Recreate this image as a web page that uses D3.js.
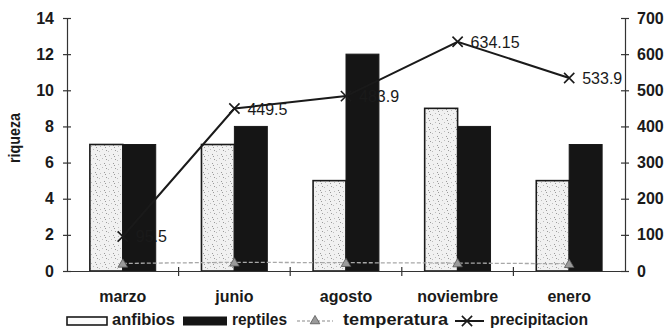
<!DOCTYPE html>
<html>
<head>
<meta charset="utf-8">
<script src="https://cdn.jsdelivr.net/npm/d3@7"></script>
<style>
  html, body { margin: 0; padding: 0; background: #fff; }
  svg { display: block; font-family: "Liberation Sans", Arial, sans-serif; }
</style>
</head>
<body>
<svg id="chart" width="665" height="330"></svg>
<script>
// Riqueza de anfibios y reptiles por mes, con temperatura y precipitación
const meses = ["marzo", "junio", "agosto", "noviembre", "enero"];
const anfibios = [7, 7, 5, 9, 5];
const reptiles = [7, 8, 12, 8, 7];
const temperatura = [21, 24, 23, 22, 20];
const precipitacion = [95.5, 449.5, 483.9, 634.15, 533.9];
const precipLabels = ["95.5", "449.5", "483.9", "634.15", "533.9"];
const ticksIzq = [0, 2, 4, 6, 8, 10, 12, 14];
const ticksDer = [0, 100, 200, 300, 400, 500, 600, 700];

const svg = d3.select("#chart");
const plotL = 67, plotR = 625, plotT = 18, plotB = 271;
const ink = "#1a1a1a";

// patterned fill for the anfibios bars (light stipple)
const defs = svg.append("defs");
const pat = defs.append("pattern").attr("id", "stipple")
  .attr("patternUnits", "userSpaceOnUse").attr("width", 9).attr("height", 9);
pat.append("rect").attr("width", 9).attr("height", 9).attr("fill", "#f1f1f1");
[[1, 2], [5, 1], [3, 5], [7, 6], [0, 7], [6, 3]].forEach(([px, py], i) => {
  pat.append("rect").attr("x", px).attr("y", py).attr("width", 1).attr("height", 1)
    .attr("fill", i % 2 ? "#9a9a9a" : "#bdbdbd");
});

const x0 = d3.scaleBand().domain(meses).range([plotL, plotR]);
const x1 = d3.scaleBand().domain(["anfibios", "reptiles"])
  .range([x0.bandwidth() * 0.205, x0.bandwidth() * 0.795]);
const yL = d3.scaleLinear().domain([0, 14]).range([plotB, plotT]);
const yR = d3.scaleLinear().domain([0, 700]).range([plotB, plotT]);
const cx = m => x0(m) + x0.bandwidth() / 2;

// bars
const g = svg.append("g");
meses.forEach((m, i) => {
  g.append("rect")
    .attr("x", x0(m) + x1("anfibios")).attr("y", yL(anfibios[i]))
    .attr("width", x1.bandwidth()).attr("height", plotB - yL(anfibios[i]))
    .attr("fill", "url(#stipple)").attr("stroke", ink).attr("stroke-width", 1.6);
  g.append("rect")
    .attr("x", x0(m) + x1("reptiles")).attr("y", yL(reptiles[i]))
    .attr("width", x1.bandwidth()).attr("height", plotB - yL(reptiles[i]))
    .attr("fill", "#151515").attr("stroke", ink).attr("stroke-width", 1);
});

// axes
function styleAxis(sel) {
  sel.selectAll("path").attr("stroke", "#333").attr("stroke-width", 1.2);
  sel.selectAll("line").attr("stroke", "#333").attr("stroke-width", 1.2);
  sel.selectAll("text").attr("font-size", 16).attr("font-weight", "bold").attr("fill", ink);
}
const axL = svg.append("g").attr("transform", `translate(${plotL},0)`)
  .call(d3.axisLeft(yL).tickValues(ticksIzq).tickSizeInner(4).tickSizeOuter(0).tickPadding(9));
axL.selectAll(".tick line").attr("x2", 4).attr("x1", -4);
styleAxis(axL);

const axR = svg.append("g").attr("transform", `translate(${plotR},0)`)
  .call(d3.axisRight(yR).tickValues(ticksDer).tickSizeInner(4).tickSizeOuter(0).tickPadding(8));
axR.selectAll(".tick line").attr("x1", -4).attr("x2", 4);
styleAxis(axR);

const axB = svg.append("g").attr("transform", `translate(0,${plotB})`)
  .call(d3.axisBottom(x0).tickSize(0).tickPadding(20));
styleAxis(axB);
meses.slice(1).forEach(m => {
  axB.append("line").attr("x1", x0(m)).attr("x2", x0(m)).attr("y1", -4).attr("y2", 5)
    .attr("stroke", "#333").attr("stroke-width", 1.2);
});

svg.append("text").attr("transform", `translate(20,138) rotate(-90)`)
  .attr("text-anchor", "middle").attr("font-size", 16).attr("font-weight", "bold")
  .attr("textLength", 50).attr("lengthAdjust", "spacingAndGlyphs")
  .attr("fill", ink).text("riqueza");

// temperature (right axis)
const tLine = d3.line().x((d, i) => cx(meses[i])).y(d => yR(d));
svg.append("path").datum(temperatura).attr("d", tLine)
  .attr("fill", "none").attr("stroke", "#a8a8a8").attr("stroke-width", 1.3)
  .attr("stroke-dasharray", "4,2");
const tri = d3.symbol().type(d3.symbolTriangle).size(40);
temperatura.forEach((t, i) => {
  svg.append("path").attr("d", tri)
    .attr("transform", `translate(${cx(meses[i])},${yR(t) + 1})`)
    .attr("fill", "#9a9a9a").attr("stroke", "#555").attr("stroke-width", 0.8);
});

// precipitation (right axis)
const pLine = d3.line().x((d, i) => cx(meses[i])).y(d => yR(d));
svg.append("path").datum(precipitacion).attr("d", pLine)
  .attr("fill", "none").attr("stroke", ink).attr("stroke-width", 2);
const cross = d3.symbol().type(d3.symbolX).size(70);
precipitacion.forEach((p, i) => {
  svg.append("path").attr("d", cross)
    .attr("transform", `translate(${cx(meses[i])},${yR(p)})`)
    .attr("fill", "none").attr("stroke", ink).attr("stroke-width", 1.6);
  svg.append("text").attr("x", cx(meses[i]) + 13).attr("y", yR(p) + 6)
    .attr("font-size", 16).attr("fill", ink).text(precipLabels[i]);
});

// legend
const ly = 321;
const leg = svg.append("g");
function legText(x, w, s) {
  leg.append("text").attr("x", x).attr("y", ly + 3.5)
    .attr("textLength", w).attr("lengthAdjust", "spacingAndGlyphs").text(s);
}
leg.append("rect").attr("x", 67).attr("y", ly - 4).attr("width", 40).attr("height", 8)
  .attr("fill", "#fbfbfb").attr("stroke", ink).attr("stroke-width", 1.6);
legText(112, 63, "anfibios");
leg.append("rect").attr("x", 183).attr("y", ly - 4.5).attr("width", 44).attr("height", 9)
  .attr("fill", "#151515");
legText(232, 55, "reptiles");
leg.append("line").attr("x1", 297).attr("x2", 333).attr("y1", ly).attr("y2", ly)
  .attr("stroke", "#8a8a8a").attr("stroke-width", 1.2).attr("stroke-dasharray", "3,2");
leg.append("path").attr("d", tri).attr("transform", `translate(315,${ly})`)
  .attr("fill", "#9a9a9a").attr("stroke", "#555").attr("stroke-width", 0.8);
legText(343, 105, "temperatura");
leg.append("line").attr("x1", 455).attr("x2", 484).attr("y1", ly).attr("y2", ly)
  .attr("stroke", ink).attr("stroke-width", 2);
leg.append("path").attr("d", cross).attr("transform", `translate(467,${ly})`)
  .attr("fill", "none").attr("stroke", ink).attr("stroke-width", 1.6);
legText(490, 98, "precipitacion");
leg.selectAll("text").attr("font-size", 16).attr("font-weight", "bold").attr("fill", ink);
</script>
</body>
</html>
